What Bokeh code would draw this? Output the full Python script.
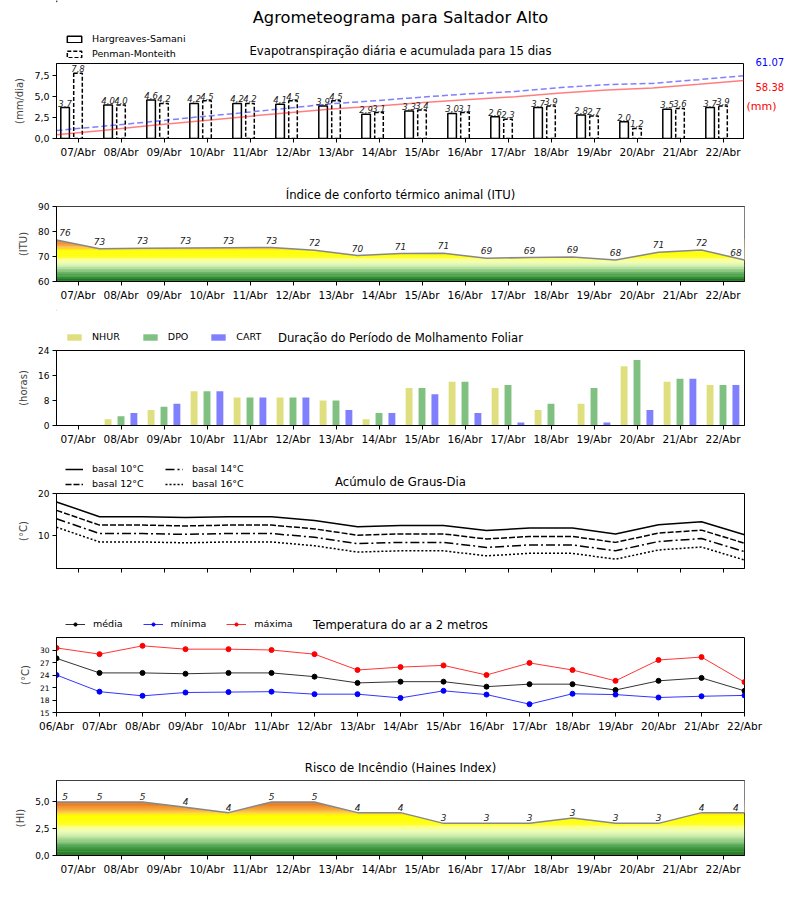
import numpy as np
from bokeh.plotting import figure
from bokeh.models import Range1d, FixedTicker, Legend, LegendItem
from bokeh.layouts import column, row
from bokeh.embed import file_html
from bokeh.resources import INLINE
from bokeh.core.properties import value

FONT = "DejaVu Sans"

# ---------------- data ----------------
days = ["07/Abr", "08/Abr", "09/Abr", "10/Abr", "11/Abr", "12/Abr", "13/Abr", "14/Abr",
        "15/Abr", "16/Abr", "17/Abr", "18/Abr", "19/Abr", "20/Abr", "21/Abr", "22/Abr"]
days_temp = ["06/Abr"] + days

et_hs = [3.7, 4.0, 4.6, 4.2, 4.2, 4.1, 3.9, 2.9, 3.3, 3.0, 2.6, 3.7, 2.8, 2.0, 3.5, 3.7]
et_pm = [7.8, 4.0, 4.2, 4.5, 4.2, 4.5, 4.5, 3.1, 3.4, 3.1, 2.3, 3.9, 2.7, 1.2, 3.6, 3.9]
acc_hs_text = "58.38"
acc_pm_text = "61.07"

itu = [76.6, 73.1, 73.3, 73.4, 73.5, 73.6, 72.5, 70.4, 71.2, 71.3, 69.3, 69.6, 69.8,
       68.6, 71.7, 72.6, 68.6]

nhur = [0, 2, 5, 11, 9, 9, 8, 2, 12, 14, 12, 5, 7, 19, 14, 13]
dpo = [0, 3, 6, 11, 9, 9, 8, 4, 12, 14, 13, 7, 12, 21, 15, 13]
cart = [0, 4, 7, 11, 9, 9, 5, 4, 10, 4, 1, 0, 1, 5, 15, 13]

t_med = [28.0, 24.5, 24.5, 24.3, 24.5, 24.5, 23.6, 22.1, 22.4, 22.4, 21.2, 21.8, 21.8,
         20.4, 22.6, 23.3, 20.2]
t_min = [24.0, 20.0, 19.0, 19.8, 19.9, 20.0, 19.4, 19.4, 18.5, 20.2, 19.3, 17.0, 19.5,
         19.3, 18.6, 18.9, 19.1]
t_max = [30.5, 29.0, 31.0, 30.2, 30.2, 30.0, 29.0, 25.2, 25.9, 26.3, 24.0, 26.9, 25.2,
         22.6, 27.6, 28.3, 22.3]

bases = [10, 12, 14, 16]
base_names = ["basal 10°C", "basal 12°C", "basal 14°C", "basal 16°C"]
base_dash = ["solid", "6 2", "9 3 2 3", "2 2"]

haines = [5, 5, 5, 4.5, 4, 5, 5, 4, 4, 3, 3, 3, 3.5, 3, 3, 4, 4]

# ---------------- helpers ----------------
x16 = np.arange(len(days), dtype=float)
x17 = np.arange(len(days_temp), dtype=float) - 0.5
XR = (-0.5, 15.5)
W = 792
LB = 56
FW = 688
FH = 75
BB = 28
TITLE_SIZE = "11.7px"

STOPS = [(0.00, "#0a640a"), (0.09, "#2e8b2e"), (0.19, "#5caa5c"), (0.28, "#98d088"),
         (0.37, "#d2f0b0"), (0.46, "#f0ffb0"), (0.53, "#ffff80"), (0.58, "#ffff10"),
         (0.73, "#ffff00"), (0.78, "#ffd030"), (0.83, "#f8b040"), (0.90, "#f09030"),
         (0.96, "#e07018"), (1.00, "#d05a10")]


def cmap(f):
    f = min(max(f, 0.0), 1.0)
    for (f0, c0), (f1, c1) in zip(STOPS[:-1], STOPS[1:]):
        if f <= f1:
            t = (f - f0) / (f1 - f0) if f1 > f0 else 0
            a = [int(c0[i:i + 2], 16) for i in (1, 3, 5)]
            b = [int(c1[i:i + 2], 16) for i in (1, 3, 5)]
            return "#%02x%02x%02x" % tuple(int(round(a[k] + (b[k] - a[k]) * t)) for k in range(3))
    return STOPS[-1][1]


def blank(w, h, x0=0):
    # header strip; in a column its frame is aligned with the plot frame below
    f = figure(width=w, height=h, x_range=Range1d(x0, x0 + w), y_range=Range1d(h, 0),
               min_border=0, toolbar_location=None, output_backend="svg",
               x_axis_location=None, y_axis_location=None, title=None)
    f.grid.visible = False
    f.outline_line_color = None
    f.background_fill_color = "white"
    f.border_fill_color = "white"
    return f


def header(h):
    f = blank(W, h)
    f.x_range = Range1d(LB, LB + FW)
    return f


def htext(f, x, y, t, size=TITLE_SIZE, color="black", align="center"):
    f.text(x=[x], y=[y], text=[t], text_font=value(FONT), text_font_size=size,
           text_align=align, text_baseline="middle", text_color=color)


def legend(items, x, vy, orientation="vertical", spacing=4, gw=18, standoff=9):
    return Legend(items=items, location=(x - LB, vy), orientation=orientation,
                  padding=0, margin=0, spacing=spacing, glyph_width=gw, glyph_height=8,
                  label_standoff=standoff, label_height=9, label_text_font=FONT,
                  label_text_font_size="9.5px", label_text_color="black",
                  border_line_alpha=0, background_fill_alpha=0)


def mk(ylabel, yr, yticks, ylabels=None, top=6, right=W - LB - FW,
       xticks=None, xlabels=None, show_xlabels=True, ytick_size="9px"):
    p = figure(frame_width=FW, frame_height=FH, x_range=Range1d(*XR), y_range=Range1d(*yr),
               output_backend="svg", toolbar_location=None, title=None,
               min_border_left=LB, min_border_right=right,
               min_border_top=top, min_border_bottom=BB)
    p.grid.visible = False
    p.outline_line_color = "black"
    p.outline_line_alpha = 1
    p.background_fill_color = "white"
    p.border_fill_color = "white"
    for ax in p.axis:
        ax.major_tick_in = 0
        ax.major_tick_out = 4
        ax.minor_tick_line_color = None
        ax.axis_line_color = "black"
        ax.major_tick_line_color = "black"
        ax.major_label_text_font = FONT
        ax.major_label_text_color = "black"
        ax.major_label_standoff = 3
    xa = p.xaxis[0]
    ya = p.yaxis[0]
    if xticks is None:
        xticks, xlabels = x16, days
    xa.ticker = FixedTicker(ticks=[float(t) for t in xticks])
    xa.major_label_overrides = {float(t): l for t, l in zip(xticks, xlabels)}
    xa.major_label_text_font_size = "10.5px"
    if not show_xlabels:
        xa.major_label_text_alpha = 0
    ya.ticker = FixedTicker(ticks=yticks)
    if ylabels:
        ya.major_label_overrides = {float(t): l for t, l in zip(yticks, ylabels)}
    ya.major_label_text_font_size = ytick_size
    ya.axis_label = ylabel
    ya.axis_label_text_font = FONT
    ya.axis_label_text_font_size = "10px"
    ya.axis_label_text_font_style = "normal"
    ya.axis_label_standoff = 6
    return p


def gradient_area(p, xs, ys, lo, hi, top, nb=60):
    edges = np.linspace(lo, hi, nb + 1)
    mids = (edges[:-1] + edges[1:]) / 2
    cols = [cmap((m - lo) / (hi - lo)) for m in mids]
    ov = (hi - lo) / nb * 0.5
    p.quad(left=XR[0], right=XR[1], bottom=edges[:-1], top=edges[1:] + ov,
           fill_color=cols, line_color=None)
    # white mask above the curve (extended past the frame edges)
    mx = [XR[0] - 1] + list(xs) + [XR[1] + 1]
    my = [ys[0]] + list(ys) + [ys[-1]]
    p.varea(x=mx, y1=my, y2=top, fill_color="white", fill_alpha=1)
    p.line(xs, ys, line_color="#888888", line_width=1.5)


def value_labels(p, xs, ys, txt, yoff=-3, size="9px"):
    p.text(x=xs, y=ys, text=txt, text_font=value(FONT), text_font_style="italic",
           text_font_size=size, text_align="center", text_baseline="bottom",
           y_offset=yoff, text_color="#222222")


OFF = [-1000]  # dummy (off-canvas) position for legend-only renderers

# ---------------- 1. Evapotranspiração ----------------
h1 = blank(LB + FW, 63)
h1.x_range = Range1d(LB, LB + FW)
htext(h1, 400, 17, "Agrometeograma para Saltador Alto", size="16.3px")
htext(h1, 400, 50, "Evapotranspiração diária e acumulada para 15 dias")
d_hs = h1.vbar(x=OFF, top=[1], width=1, fill_color="white", line_color="black",
               line_width=1.5)
d_pm = h1.vbar(x=OFF, top=[1], width=1, fill_color="white", line_color="black",
               line_width=1.5, line_dash="4 2")
h1.add_layout(legend([LegendItem(label="Hargreaves-Samani", renderers=[d_hs]),
                      LegendItem(label="Penman-Monteith", renderers=[d_pm])], 65, 4))

ymax1 = 8.97
p1 = mk("(mm/dia)", (0, ymax1), [0, 2.5, 5, 7.5], ["0,0", "2,5", "5,0", "7,5"], top=0,
        right=0, ytick_size="9.5px")
xh = x16 - 0.3
p1.vbar(x=xh, top=et_hs, width=0.2, fill_color="white", line_color="black", line_width=1.5)
p1.vbar(x=x16, top=et_pm, width=0.2, fill_color="white", line_color="black",
        line_width=1.5, line_dash="4 2")
p1.extra_y_ranges = {"acc": Range1d(0, 72.7)}
xacc = np.linspace(XR[0], XR[1], len(days))
p1.line(xacc, np.cumsum(et_hs), y_range_name="acc", line_color="red", line_alpha=0.5,
        line_width=1.5)
p1.line(xacc, np.cumsum(et_pm), y_range_name="acc", line_color="blue", line_alpha=0.5,
        line_width=1.5, line_dash="6 3")
value_labels(p1, xh, et_hs, [f"{v:.1f}".replace(".", ",") for v in et_hs], yoff=-1,
             size="8.5px")
value_labels(p1, x16, et_pm, [f"{v:.1f}".replace(".", ",") for v in et_pm], yoff=-1,
             size="8.5px")

side = blank(W - LB - FW, 63 + FH + BB)
htext(side, 11, 61, acc_pm_text, size="10px", color="blue", align="left")
htext(side, 11, 86, acc_hs_text, size="10px", color="red", align="left")
htext(side, 2, 106, "(mm)", size="11px", color="red", align="left")

block1 = row(column(h1, p1, spacing=0), side, spacing=0)

# ---------------- 2. ITU ----------------
h2 = header(34)
htext(h2, 400, 28, "Índice de conforto térmico animal (ITU)")
p2 = mk("(ITU)", (60, 90), [60, 70, 80, 90], top=6)
gradient_area(p2, x17, itu, 60, 77, 90)
lx = list(x17)
lx[0] += 0.2
lx[-1] -= 0.2
value_labels(p2, lx, itu, [str(int(v)) for v in itu], yoff=-4)

# ---------------- 3. Molhamento ----------------
h3 = header(35)
htext(h3, 400, 28, "Duração do Período de Molhamento Foliar")
p3 = mk("(horas)", (0, 24), [0, 8, 16, 24], top=6)
wet_cols = ["#dfdf80", "#80c080", "#8080ff"]
items3 = []
for name, vals, off, c in [("NHUR", nhur, -0.3, wet_cols[0]), ("DPO", dpo, 0.0, wet_cols[1]),
                           ("CART", cart, 0.3, wet_cols[2])]:
    p3.vbar(x=x16 + off, top=vals, width=0.16, fill_color=c, line_color=None)
    d = h3.vbar(x=OFF, top=[1], width=1, fill_color=c, line_color=None)
    items3.append(LegendItem(label=name, renderers=[d]))
h3.add_layout(legend(items3, 65, 2, orientation="horizontal", spacing=21))

# ---------------- 4. Graus-dia ----------------
h4 = header(35)
htext(h4, 400, 28, "Acúmulo de Graus-Dia")
p4 = mk("(°C)", (2.2, 20), [10, 20], top=5, show_xlabels=False)
dums = []
for b, d in zip(bases, base_dash):
    p4.line(x17, [t - b for t in t_med], line_color="black", line_width=1.5, line_dash=d)
    dums.append(h4.line(x=[-1000, -999], y=[1, 1], line_color="black", line_width=1.5,
                        line_dash=d))
h4.add_layout(legend([LegendItem(label=base_names[0], renderers=[dums[0]]),
                      LegendItem(label=base_names[1], renderers=[dums[1]])], 65, -1))
h4.add_layout(legend([LegendItem(label=base_names[2], renderers=[dums[2]]),
                      LegendItem(label=base_names[3], renderers=[dums[3]])], 165, -1))

# ---------------- 5. Temperatura ----------------
h5 = header(35)
htext(h5, 400, 28, "Temperatura do ar a 2 metros")
p5 = mk("(°C)", (15, 33), [15, 18, 21, 24, 27, 30], top=6, xticks=x17, xlabels=days_temp,
        ytick_size="7.5px")
items5 = []
for name, ys, c in [("média", t_med, "black"), ("mínima", t_min, "blue"),
                    ("máxima", t_max, "red")]:
    p5.line(x17, ys, line_color=c, line_width=1, line_alpha=0.8)
    p5.scatter(x17, ys, size=5, fill_color=c, line_color=c)
    dl = h5.line(x=[-1000, -999], y=[1, 1], line_color=c, line_width=1, line_alpha=0.8)
    ds = h5.scatter(x=OFF, y=[1], size=5, fill_color=c, line_color=c)
    items5.append(LegendItem(label=name, renderers=[dl, ds]))
h5.add_layout(legend(items5, 65, 2, orientation="horizontal", spacing=20, gw=20,
                     standoff=8))

# ---------------- 6. Haines ----------------
h6 = header(34)
htext(h6, 400, 27, "Risco de Incêndio (Haines Index)")
p6 = mk("(HI)", (0, 7), [0, 2.5, 5], ["0,0", "2,5", "5,0"], top=6)
gradient_area(p6, x17, haines, 0, 5.1, 7)
value_labels(p6, lx, haines, [str(int(v)) for v in haines], yoff=-2)

layout = column(block1, h2, p2, h3, p3, h4, p4, h5, p5, h6, p6, spacing=0)
open("out.html", "w").write(file_html(layout, INLINE))
